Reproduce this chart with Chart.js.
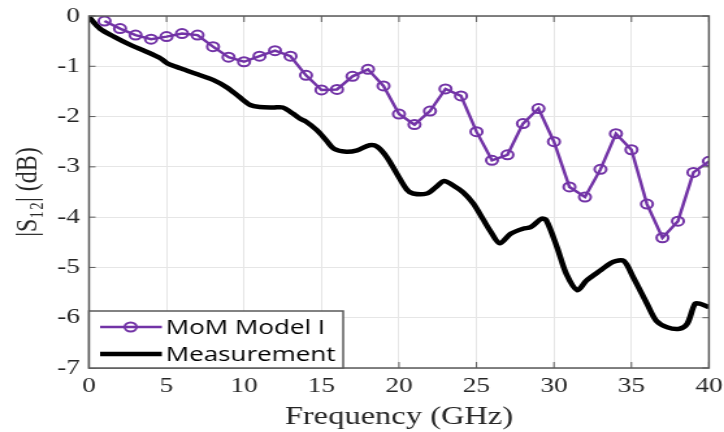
<!DOCTYPE html>
<html>
<head>
<meta charset="utf-8">
<script src="https://cdn.jsdelivr.net/npm/chart.js@4"></script>
<style>
  body { margin: 0; background: #fff; }
</style>
</head>
<body>
<!-- the reference figure is stretched horizontally, so draw narrow and stretch with inline css -->
<canvas id="myChart" width="557" height="432" style="display:block;width:724px;height:432px"></canvas>
<script>
// MoM Model I, sampled every 1 GHz
const momFreq = [1, 2, 3, 4, 5, 6, 7, 8, 9, 10, 11, 12, 13, 14, 15, 16, 17, 18, 19, 20,
  21, 22, 23, 24, 25, 26, 27, 28, 29, 30, 31, 32, 33, 34, 35, 36, 37, 38, 39, 40];
const momS12 = [-0.10, -0.25, -0.38, -0.46, -0.41, -0.35, -0.38, -0.61, -0.82, -0.91,
  -0.80, -0.69, -0.80, -1.18, -1.47, -1.46, -1.20, -1.06, -1.39, -1.95,
  -2.16, -1.89, -1.45, -1.59, -2.30, -2.87, -2.76, -2.14, -1.84, -2.50,
  -3.40, -3.60, -3.05, -2.34, -2.66, -3.74, -4.41, -4.08, -3.11, -2.89];

const measFreq = [0, 0.7, 1.6, 2.7, 3.7, 4.6, 5.05, 5.9, 7.0, 8.0, 8.9, 9.7, 10.4, 11.0, 11.9,
  12.5, 13.2, 13.6, 14.0, 14.7, 15.3, 15.8, 16.6, 17.3, 18.1, 18.6, 19.2, 19.85, 20.5, 20.9,
  21.8, 22.4, 22.9, 23.5, 24.15, 24.8, 25.4, 25.9, 26.5, 27.2, 28.0, 28.5, 29.2, 29.5, 30.2,
  30.8, 31.5, 32.1, 33.0, 33.8, 34.5, 35.1, 36.0, 36.6, 37.3, 38.1, 38.6, 39.1, 39.4, 40.0];
const measS12 = [-0.02, -0.25, -0.41, -0.58, -0.71, -0.84, -0.94, -1.04, -1.16, -1.27, -1.42, -1.61, -1.77, -1.81, -1.82,
  -1.82, -1.95, -2.04, -2.10, -2.27, -2.47, -2.64, -2.70, -2.67, -2.57, -2.60, -2.80, -3.13, -3.45, -3.53,
  -3.53, -3.40, -3.28, -3.37, -3.51, -3.73, -4.03, -4.28, -4.52, -4.33, -4.23, -4.20, -4.03, -4.06, -4.60,
  -5.13, -5.45, -5.26, -5.06, -4.89, -4.87, -5.19, -5.72, -6.06, -6.19, -6.22, -6.12, -5.72, -5.72, -5.79];

const xTicks = [0, 5, 10, 15, 20, 25, 30, 35, 40];
const yTicks = [0, -1, -2, -3, -4, -5, -6, -7];

const purple = '#7233a6';
const textColor = '#262626';

// frame, inward tick marks and the legend box (MATLAB style)
const framePlugin = {
  id: 'frame',
  afterDatasetsDraw(chart) {
    const ctx = chart.ctx;
    const a = chart.chartArea;
    const xs = chart.scales.x, ys = chart.scales.y;
    ctx.save();
    ctx.strokeStyle = '#5a5a5a';
    ctx.lineWidth = 1.5;
    ctx.strokeRect(a.left, a.top, a.right - a.left, a.bottom - a.top);
    ctx.lineWidth = 1;
    ctx.beginPath();
    xTicks.forEach(v => {
      const px = xs.getPixelForValue(v);
      ctx.moveTo(px, a.bottom); ctx.lineTo(px, a.bottom - 6);
      ctx.moveTo(px, a.top); ctx.lineTo(px, a.top + 6);
    });
    yTicks.forEach(v => {
      const py = ys.getPixelForValue(v);
      ctx.moveTo(a.left, py); ctx.lineTo(a.left + 5, py);
      ctx.moveTo(a.right, py); ctx.lineTo(a.right - 5, py);
    });
    ctx.stroke();

    // legend
    const bx = a.left, bw = 195.5, bh = 57, by = a.bottom - bh;
    ctx.fillStyle = '#fff';
    ctx.fillRect(bx, by, bw, bh);
    ctx.strokeStyle = '#5a5a5a';
    ctx.lineWidth = 1.5;
    ctx.strokeRect(bx, by, bw, bh);

    const y1 = by + 16, y2 = by + 43;
    ctx.strokeStyle = purple;
    ctx.lineWidth = 2.5;
    ctx.beginPath(); ctx.moveTo(bx + 8.5, y1); ctx.lineTo(bx + 56, y1); ctx.stroke();
    ctx.lineWidth = 2;
    ctx.beginPath(); ctx.arc(bx + 32, y1, 4.5, 0, Math.PI * 2); ctx.stroke();
    ctx.strokeStyle = '#000';
    ctx.lineWidth = 4.5;
    ctx.beginPath(); ctx.moveTo(bx + 8.5, y2); ctx.lineTo(bx + 56, y2); ctx.stroke();

    ctx.fillStyle = '#000';
    ctx.font = '20px "Open Sans"';
    ctx.textBaseline = 'middle';
    ctx.textAlign = 'left';
    ctx.fillText(chart.data.datasets[0].label, bx + 59, y1 + 1);
    ctx.fillText(chart.data.datasets[1].label, bx + 59, y2 + 1);
    ctx.restore();
  }
};

new Chart(document.getElementById('myChart'), {
  type: 'line',
  data: {
    datasets: [{
      label: 'MoM Model I',
      data: momFreq.map((f, i) => ({ x: f, y: momS12[i] })),
      borderColor: purple,
      borderWidth: 2.5,
      pointStyle: 'circle',
      pointRadius: 4.5,
      pointBorderWidth: 2,
      pointBorderColor: purple,
      pointBackgroundColor: 'rgba(0,0,0,0)',
      tension: 0
    }, {
      label: 'Measurement',
      data: measFreq.map((f, i) => ({ x: f, y: measS12[i] })),
      borderColor: '#000',
      borderWidth: 4.5,
      pointRadius: 0,
      tension: 0.3
    }]
  },
  options: {
    responsive: false,
    animation: false,
    devicePixelRatio: 1,
    layout: { padding: { top: 16, right: 11.6, left: 0, bottom: 0 } },
    plugins: { legend: { display: false }, tooltip: { enabled: false } },
    scales: {
      x: {
        type: 'linear',
        min: 0, max: 40,
        afterBuildTicks: s => { s.ticks = xTicks.map(v => ({ value: v })); },
        afterFit: s => { s.height = 64; s.paddingLeft = 0; s.paddingRight = 0; },
        grid: { color: '#e6e6e6', drawTicks: false },
        border: { display: false },
        ticks: { padding: 6, color: textColor, font: { family: '"Liberation Serif"', size: 21 }, maxRotation: 0 },
        title: { display: true, text: 'Frequency (GHz)', color: textColor, padding: { top: 0, bottom: 0 },
          font: { family: '"Liberation Serif"', size: 25 } }
      },
      y: {
        min: -7, max: 0,
        afterBuildTicks: s => { s.ticks = yTicks.map(v => ({ value: v })); },
        afterFit: s => { s.width = 68.5; s.paddingTop = 0; s.paddingBottom = 0; },
        grid: { color: '#e6e6e6', drawTicks: false },
        border: { display: false },
        ticks: { padding: 7, color: textColor, font: { family: '"Liberation Serif"', size: 21 } },
        title: { display: true, text: '|S\u2081\u2082| (dB)', color: textColor, padding: { top: 7, bottom: 0 },
          font: { family: '"Liberation Serif"', size: 24 } }
      }
    }
  },
  plugins: [framePlugin]
});
</script>
</body>
</html>
